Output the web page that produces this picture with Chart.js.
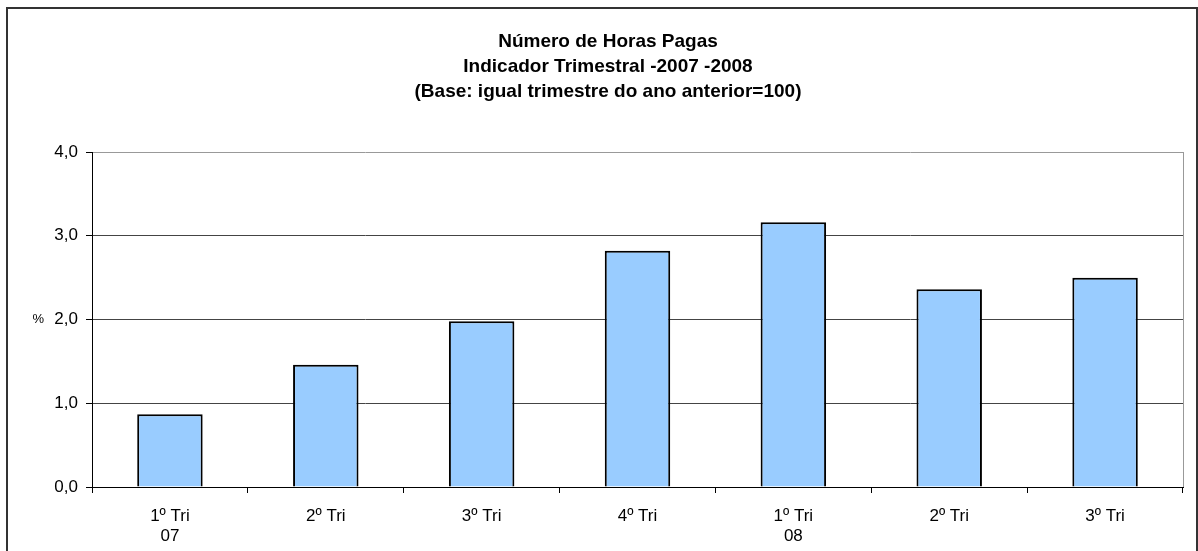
<!DOCTYPE html>
<html lang="pt">
<head>
  <meta charset="UTF-8">
  <title>Número de Horas Pagas</title>
  <script src="https://cdn.jsdelivr.net/npm/chart.js"></script>
  <style>
    html, body { margin: 0; padding: 0; background: #fff; overflow: hidden; }
    #wrap { position: relative; width: 1198px; height: 551px; }
    #frame { position: absolute; left: 6px; top: 7px; width: 1188px; height: 600px;
             border: 2px solid #333; pointer-events: none; }
  </style>
</head>
<body>
  <div id="wrap">
    <canvas id="horasChart" width="1198" height="551"></canvas>
    <div id="frame"></div>
  </div>

  <script>
    // dados
    const categorias = [['1º Tri', '07'], '2º Tri', '3º Tri', '4º Tri', ['1º Tri', '08'], '2º Tri', '3º Tri'];
    const valores = [0.87, 1.46, 1.98, 2.82, 3.16, 2.36, 2.50];
    const ticksY = [0, 1, 2, 3, 4];
    const titulo = ['Número de Horas Pagas', 'Indicador Trimestral -2007 -2008', '(Base: igual trimestre do ano anterior=100)'];

    const fonte = "'Liberation Sans', Arial, sans-serif";

    // pequeno "%" ao lado do 2,0 e borda direita cinza da área do gráfico
    const extras = {
      id: 'extras',
      afterDraw(chart) {
        const ctx = chart.ctx;
        const a = chart.chartArea;
        ctx.save();
        ctx.strokeStyle = '#999';
        ctx.lineWidth = 1;
        ctx.beginPath();
        ctx.moveTo(a.right + 0.5, a.top);
        ctx.lineTo(a.right + 0.5, a.bottom);
        ctx.stroke();
        const y = chart.scales.y.getPixelForValue(2);
        ctx.fillStyle = '#000';
        ctx.font = '13px ' + fonte;
        ctx.textAlign = 'right';
        ctx.textBaseline = 'middle';
        ctx.fillText('%', 44, y);
        ctx.restore();
      }
    };

    const ctx = document.getElementById('horasChart').getContext('2d');
    new Chart(ctx, {
      type: 'bar',
      data: {
        labels: categorias,
        datasets: [{
          data: valores,
          backgroundColor: '#99CCFF',
          borderColor: '#000',
          borderWidth: 2,
          borderSkipped: 'bottom',
          barPercentage: 0.42,
          categoryPercentage: 1
        }]
      },
      options: {
        responsive: false,
        animation: false,
        layout: { padding: { left: 33, right: 15, top: 0, bottom: 0 } },
        plugins: {
          legend: { display: false },
          tooltip: { enabled: false },
          title: {
            display: true,
            text: titulo,
            color: '#000',
            font: { family: fonte, size: 19, weight: 'bold', lineHeight: 25 / 19 },
            padding: { top: 29, bottom: 48 }
          }
        },
        scales: {
          x: {
            afterFit: s => { s.height = 64; },
            grid: { offset: true, drawOnChartArea: false, drawTicks: true, tickLength: 6, color: '#000' },
            border: { color: '#000', width: 1 },
            ticks: {
              color: '#000',
              font: { family: fonte, size: 17 },
              padding: 13,
              maxRotation: 0,
              autoSkip: false
            }
          },
          y: {
            min: 0,
            max: 4,
            afterFit: s => { s.width = 59; },
            afterBuildTicks: s => { s.ticks = ticksY.map(v => ({ value: v })); },
            grid: {
              color: c => (c.tick && c.tick.value === 4 ? '#999' : '#444'),
              tickColor: '#000',
              tickLength: 6
            },
            border: { color: '#000', width: 1 },
            ticks: {
              color: '#000',
              font: { family: fonte, size: 17 },
              padding: 8,
              callback: v => v.toFixed(1).replace('.', ',')
            }
          }
        }
      },
      plugins: [extras]
    });
  </script>
</body>
</html>
